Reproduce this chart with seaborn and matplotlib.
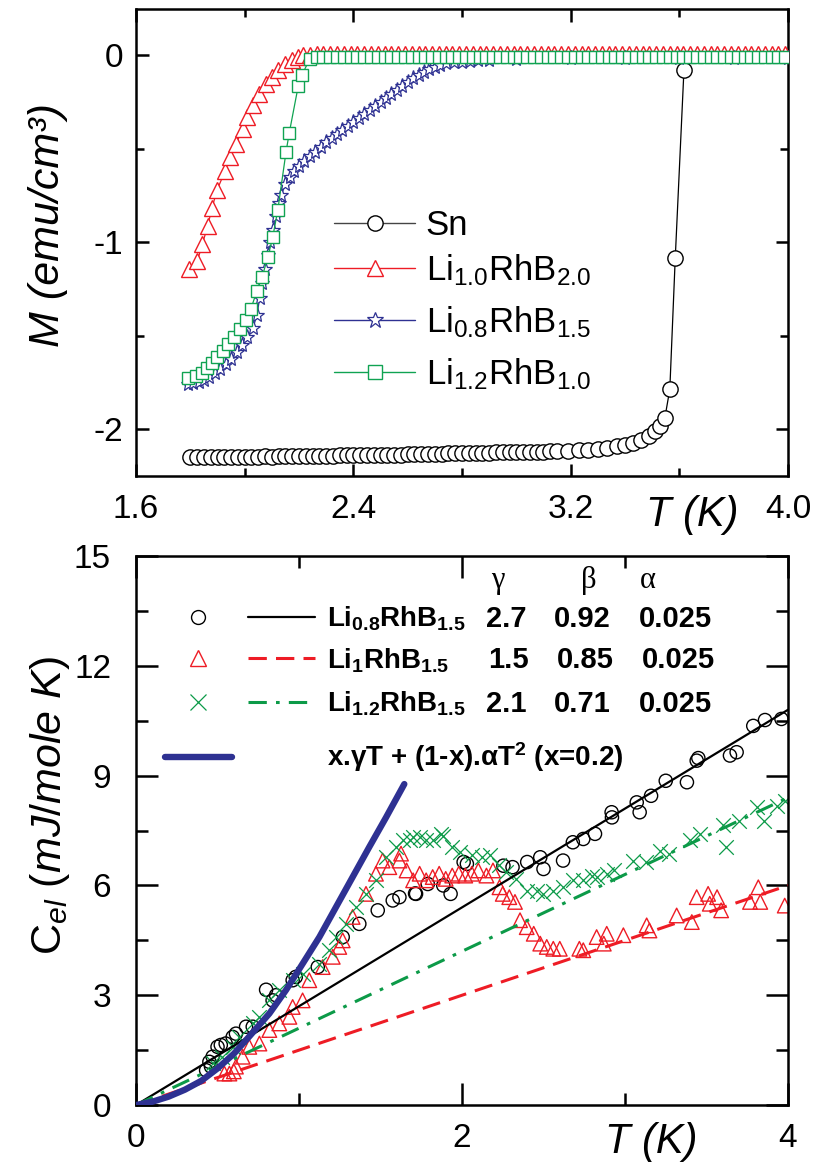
import matplotlib
matplotlib.use("Agg")
import matplotlib.pyplot as plt
import seaborn as sns
from matplotlib.lines import Line2D
from matplotlib.legend import Legend
from matplotlib.legend_handler import HandlerTuple
from matplotlib.ticker import MultipleLocator, FormatStrFormatter

# ---------------------------------------------------------------- data (top)
sn_T = [1.800, 1.825, 1.850, 1.875, 1.900, 1.925, 1.950, 1.975,
        2.000, 2.025, 2.050, 2.075, 2.100, 2.125, 2.150, 2.175, 2.200,
        2.225, 2.250, 2.275, 2.300, 2.325, 2.350, 2.375, 2.400,
        2.425, 2.450, 2.475, 2.500, 2.525, 2.550, 2.575, 2.600,
        2.625, 2.650, 2.675, 2.700, 2.725, 2.750, 2.775, 2.800,
        2.825, 2.850, 2.875, 2.900, 2.925, 2.950, 2.975, 3.000,
        3.025, 3.050, 3.075, 3.100, 3.125, 3.150,
        3.190, 3.230, 3.265, 3.300, 3.335, 3.370, 3.400, 3.430, 3.460,
        3.490, 3.510, 3.530, 3.547, 3.565, 3.585, 3.617]
sn_M = [-2.150, -2.149, -2.150, -2.149, -2.149, -2.148, -2.149, -2.148,
        -2.147, -2.146, -2.146, -2.145, -2.146, -2.144, -2.145, -2.143, -2.144,
        -2.143, -2.142, -2.142, -2.141, -2.141, -2.140, -2.140, -2.139,
        -2.138, -2.137, -2.137, -2.136, -2.136, -2.135, -2.135, -2.134,
        -2.133, -2.132, -2.131, -2.131, -2.130, -2.129, -2.129, -2.128,
        -2.127, -2.127, -2.126, -2.125, -2.124, -2.124, -2.123, -2.122,
        -2.121, -2.121, -2.120, -2.119, -2.118, -2.117,
        -2.115, -2.112, -2.109, -2.104, -2.098, -2.090, -2.082, -2.071, -2.058,
        -2.036, -2.010, -1.985, -1.937, -1.786, -1.084, -0.080]

li10_T = [1.796, 1.826, 1.844, 1.864, 1.879, 1.899, 1.928, 1.946, 1.968, 1.993,
          2.010, 2.032, 2.054, 2.078, 2.099, 2.124, 2.148, 2.173, 2.197, 2.216,
          2.240, 2.265, 2.290, 2.315, 2.340, 2.365, 2.390, 2.415, 2.440, 2.465,
          2.490, 2.515, 2.540, 2.565, 2.590, 2.615, 2.640, 2.665, 2.690, 2.715,
          2.740, 2.765, 2.790, 2.815, 2.840, 2.865, 2.890, 2.915, 2.940, 2.965,
          2.990, 3.015, 3.040, 3.065, 3.090, 3.115, 3.140, 3.165, 3.190, 3.215,
          3.240, 3.265, 3.290, 3.315, 3.340, 3.365, 3.390, 3.415, 3.440, 3.465,
          3.490, 3.515, 3.540, 3.565, 3.590, 3.615, 3.640, 3.665, 3.690, 3.715,
          3.740, 3.765, 3.790, 3.815, 3.840, 3.865, 3.890, 3.915, 3.940, 3.965,
          3.990]
li10_M = [-1.144, -1.099, -1.010, -0.912, -0.819, -0.718, -0.617, -0.542, -0.474, -0.393,
          -0.327, -0.268, -0.205, -0.152, -0.116, -0.077, -0.045, -0.027, -0.009, 0.000,
          0.004, 0.005, 0.005, 0.005, 0.005, 0.005, 0.005, 0.005, 0.005, 0.005,
          0.005, 0.005, 0.005, 0.005, 0.005, 0.005, 0.005, 0.005, 0.005, 0.005,
          0.005, 0.005, 0.005, 0.005, 0.005, 0.005, 0.005, 0.005, 0.005, 0.005,
          0.005, 0.005, 0.005, 0.005, 0.005, 0.005, 0.005, 0.005, 0.005, 0.005,
          0.005, 0.005, 0.005, 0.005, 0.005, 0.005, 0.005, 0.005, 0.005, 0.005,
          0.005, 0.005, 0.005, 0.005, 0.005, 0.005, 0.005, 0.005, 0.005, 0.005,
          0.005, 0.005, 0.005, 0.005, 0.005, 0.005, 0.005, 0.005, 0.005, 0.005,
          0.005]

li08_T = [1.790, 1.810, 1.830, 1.850, 1.870, 1.890, 1.910, 1.930, 1.950, 1.970,
          1.990, 2.010, 2.030, 2.045, 2.055, 2.065, 2.075, 2.085, 2.095, 2.105,
          2.115, 2.125, 2.135, 2.150, 2.165, 2.180, 2.200, 2.220, 2.240, 2.260,
          2.280, 2.300, 2.320, 2.340, 2.360, 2.380, 2.400, 2.420, 2.440, 2.460,
          2.480, 2.500, 2.520, 2.540, 2.560, 2.580, 2.600, 2.620, 2.640, 2.660,
          2.680, 2.700, 2.720, 2.740, 2.770, 2.800, 2.830, 2.860, 2.900,
          3.000, 3.200, 3.400, 3.600, 3.800, 4.000]
li08_M = [-1.760, -1.752, -1.745, -1.734, -1.720, -1.700, -1.678, -1.652, -1.622, -1.588,
          -1.550, -1.508, -1.460, -1.390, -1.300, -1.220, -1.140, -1.070, -1.000, -0.935,
          -0.860, -0.790, -0.745, -0.690, -0.650, -0.618, -0.590, -0.565, -0.540, -0.515,
          -0.490, -0.466, -0.444, -0.420, -0.398, -0.378, -0.357, -0.336, -0.314, -0.290,
          -0.270, -0.248, -0.226, -0.204, -0.183, -0.162, -0.142, -0.122, -0.103, -0.087,
          -0.073, -0.060, -0.050, -0.043, -0.037, -0.033, -0.030, -0.027, -0.024,
          -0.018, -0.015, -0.015, -0.015, -0.015, -0.015]

li12_T = [1.792, 1.821, 1.842, 1.860, 1.881, 1.899, 1.919, 1.940, 1.961, 1.983,
          2.005, 2.023, 2.045, 2.064, 2.085, 2.103, 2.122, 2.152, 2.164, 2.197,
          2.210, 2.240, 2.265,
          2.290, 2.315, 2.340, 2.365, 2.390, 2.415, 2.440, 2.465, 2.490, 2.515,
          2.540, 2.565, 2.590, 2.615, 2.640, 2.665, 2.690, 2.715, 2.740, 2.765,
          2.790, 2.815, 2.840, 2.865, 2.890, 2.915, 2.940, 2.965, 2.990, 3.015,
          3.040, 3.065, 3.090, 3.115, 3.140, 3.165, 3.190, 3.215, 3.240, 3.265,
          3.290, 3.315, 3.340, 3.365, 3.390, 3.415, 3.440, 3.465, 3.490, 3.515,
          3.540, 3.565, 3.590, 3.615, 3.640, 3.665, 3.690, 3.715, 3.740, 3.765,
          3.790, 3.815, 3.840, 3.865, 3.890, 3.915, 3.940, 3.965, 3.990]
li12_M = [-1.725, -1.716, -1.698, -1.671, -1.645, -1.614, -1.582, -1.546, -1.507, -1.466,
          -1.417, -1.355, -1.260, -1.185, -1.081, -0.974, -0.826, -0.518, -0.415, -0.165,
          -0.107, -0.018, -0.009,
          -0.010, -0.010, -0.010, -0.010, -0.010, -0.010, -0.010, -0.010, -0.010, -0.010,
          -0.010, -0.010, -0.010, -0.010, -0.010, -0.010, -0.010, -0.010, -0.010, -0.010,
          -0.010, -0.010, -0.010, -0.010, -0.010, -0.010, -0.010, -0.010, -0.010, -0.010,
          -0.010, -0.010, -0.010, -0.010, -0.010, -0.010, -0.010, -0.010, -0.010, -0.010,
          -0.010, -0.010, -0.010, -0.010, -0.010, -0.010, -0.010, -0.010, -0.010, -0.010,
          -0.010, -0.010, -0.010, -0.010, -0.010, -0.010, -0.010, -0.010, -0.010, -0.010,
          -0.010, -0.010, -0.010, -0.010, -0.010, -0.010, -0.010, -0.010, -0.010]

top_labels = ["Sn", "Li$_{1.0}$RhB$_{2.0}$", "Li$_{0.8}$RhB$_{1.5}$", "Li$_{1.2}$RhB$_{1.0}$"]
top_xticks = [1.6, 2.4, 3.2, 4.0]
top_yticks = [-2, -1, 0]

# ------------------------------------------------------------- data (bottom)
c08_T = [0.43, 0.45, 0.46, 0.47, 0.50, 0.52, 0.55, 0.593, 0.613, 0.675, 0.716, 0.798,
         0.838, 0.859, 0.961, 0.980, 1.115, 1.268, 1.370, 1.483, 1.575, 1.616, 1.712,
         1.718, 1.790, 1.885, 1.930, 2.010, 2.030, 2.254, 2.310, 2.400, 2.480, 2.500,
         2.620, 2.680, 2.744, 2.816, 2.918, 2.920, 3.072, 3.090, 3.160, 3.250, 3.380,
         3.440, 3.450, 3.644, 3.685, 3.787, 3.859, 3.960]
c08_C = [0.95, 1.18, 1.05, 1.32, 1.59, 1.64, 1.68, 1.86, 1.95, 2.14, 2.14, 3.15,
         2.86, 3.00, 3.41, 3.50, 3.77, 4.59, 4.95, 5.32, 5.59, 5.68, 5.78,
         5.77, 6.04, 6.00, 5.77, 6.64, 6.59, 6.54, 6.50, 6.64, 6.77, 6.45,
         6.68, 7.18, 7.27, 7.41, 8.00, 7.86, 8.27, 8.00, 8.45, 8.86, 8.82,
         9.41, 9.48, 9.55, 9.64, 10.36, 10.52, 10.55]

c10_T = [0.542, 0.573, 0.600, 0.613, 0.654, 0.695, 0.757, 0.818, 0.879, 0.941, 0.961,
         1.022, 1.063, 1.145, 1.207, 1.247, 1.268, 1.329, 1.411, 1.472, 1.513, 1.554,
         1.616, 1.626, 1.660, 1.700, 1.740, 1.780, 1.820, 1.860, 1.900, 1.940, 1.980,
         2.020, 2.060, 2.100, 2.150, 2.190, 2.230, 2.250, 2.290, 2.325, 2.356, 2.397,
         2.440, 2.480, 2.520, 2.560, 2.600, 2.720, 2.744, 2.826, 2.870, 2.888, 2.990,
         3.133, 3.150, 3.317, 3.410, 3.440, 3.510, 3.520, 3.565, 3.590, 3.767, 3.818,
         3.830, 3.980]
c10_C = [0.86, 0.86, 0.92, 1.05, 1.32, 1.59, 1.68, 2.05, 2.23, 2.41, 2.68,
         2.86, 3.41, 3.77, 4.05, 4.32, 4.50, 5.14, 5.77, 6.32, 6.68, 6.50,
         6.68, 6.87, 6.41, 6.14, 6.32, 6.14, 6.23, 6.32, 6.18, 6.27, 6.32,
         6.27, 6.32, 6.41, 6.27, 6.41, 5.95, 5.77, 5.68, 5.55, 5.05, 4.86,
         4.68, 4.41, 4.32, 4.27, 4.27, 4.27, 4.23, 4.59, 4.41, 4.68, 4.64,
         4.91, 4.77, 5.18, 5.00, 5.68, 5.77, 5.50, 5.68, 5.32, 5.55, 5.95,
         5.55, 5.45]

c12_T = [0.470, 0.530, 0.593, 0.634, 0.716, 0.757, 0.818, 0.879, 0.961, 1.022, 1.125,
         1.186, 1.227, 1.288, 1.350, 1.411, 1.472, 1.534, 1.595, 1.636, 1.680, 1.697,
         1.740, 1.780, 1.820, 1.870, 1.885, 1.940, 1.990, 2.060, 2.120, 2.170, 2.230,
         2.270, 2.330, 2.397, 2.460, 2.500, 2.560, 2.620, 2.680, 2.744, 2.800, 2.826,
         2.888, 2.930, 3.050, 3.130, 3.215, 3.270, 3.400, 3.460, 3.600, 3.620, 3.700,
         3.810, 3.850, 3.930, 3.980]
c12_C = [1.14, 1.32, 1.59, 1.86, 2.23, 2.41, 2.86, 3.14, 3.41, 3.59, 3.86,
         4.23, 4.59, 4.95, 5.41, 5.77, 6.14, 6.77, 7.05, 7.23, 7.23, 7.32,
         7.32, 7.23, 7.23, 7.40, 7.36, 7.05, 6.91, 6.82, 6.77, 6.82, 6.55,
         6.36, 6.18, 5.86, 5.86, 5.77, 5.86, 5.95, 6.14, 6.14, 6.27, 6.23,
         6.32, 6.41, 6.68, 6.64, 6.95, 6.86, 7.23, 7.41, 7.64, 7.05, 7.77,
         8.14, 7.77, 8.18, 8.32]

fit_T = [0.0, 4.0]
fit08_C = [0.0, 10.8]
fit10_C = [0.0, 6.0]
fit12_C = [0.0, 8.4]

model_T = [0.00, 0.10, 0.20, 0.30, 0.40, 0.50, 0.60, 0.70, 0.818, 0.920, 1.022,
           1.125, 1.227, 1.329, 1.431, 1.534, 1.646]
model_C = [0.00, 0.09, 0.23, 0.42, 0.66, 1.00, 1.40, 1.90, 2.50, 3.14, 3.86,
           4.59, 5.41, 6.23, 7.05, 7.86, 8.77]

bot_names = ["Li$_{\\mathbf{0.8}}$RhB$_{\\mathbf{1.5}}$",
             "Li$_{\\mathbf{1}}$RhB$_{\\mathbf{1.5}}$",
             "Li$_{\\mathbf{1.2}}$RhB$_{\\mathbf{1.5}}$"]
gamma_vals = ["2.7", "1.5", "2.1"]
beta_vals = ["0.92", "0.85", "0.71"]
alpha_vals = ["0.025", "0.025", "0.025"]
model_label = "x.\u03b3T + (1-x).\u03b1T$^{\\mathbf{2}}$ (x=0.2)"

# ---------------------------------------------------------------- style
sns.set_style("ticks")
plt.rcParams["font.family"] = ["Liberation Sans", "DejaVu Sans"]
plt.rcParams["mathtext.fontset"] = "custom"
plt.rcParams["mathtext.rm"] = "Liberation Sans"
plt.rcParams["mathtext.it"] = "Liberation Sans:italic"
plt.rcParams["mathtext.bf"] = "Liberation Sans:bold"
plt.rcParams["axes.unicode_minus"] = False
for k in ["axes.edgecolor", "xtick.color", "ytick.color", "text.color", "axes.labelcolor"]:
    plt.rcParams[k] = "black"

RED = "#ee1c25"
BLUE = "#2e3192"
GREEN = "#10a352"
GREEN2 = "#0c9a48"

fig = plt.figure(figsize=(8.18, 11.67), dpi=100)
ax1 = fig.add_axes([0.1663, 0.5921, 0.797, 0.4005])
ax2 = fig.add_axes([0.1663, 0.0531, 0.797, 0.4704])

# ---------------------------------------------------------------- top panel
def series(ax, x, y, color, marker, ms, z, lw=0.9, mew=1.0):
    sns.lineplot(x=x, y=y, ax=ax, color=color, lw=lw, marker=marker,
                 markersize=ms, markerfacecolor="white", markeredgecolor=color,
                 markeredgewidth=mew, estimator=None, sort=False, zorder=z)

series(ax1, sn_T, sn_M, "black", "o", 11, 2)
series(ax1, li10_T, li10_M, RED, "^", 12, 3)
series(ax1, li08_T, li08_M, BLUE, "*", 11, 4, mew=0.9)
series(ax1, li12_T, li12_M, GREEN, "s", 9, 5)

ax1.set_xlim(1.6, 4.0)
ax1.set_ylim(-2.25, 0.25)
ax1.set_xticks(top_xticks)
ax1.xaxis.set_minor_locator(MultipleLocator(0.4))
ax1.xaxis.set_major_formatter(FormatStrFormatter("%.1f"))
ax1.set_yticks(top_yticks)
ax1.yaxis.set_minor_locator(MultipleLocator(0.5))

top_handles = [
    Line2D([], [], color="#444444", lw=1.0, marker="o", ms=11, mfc="white", mec="black", mew=1.0),
    Line2D([], [], color=RED, lw=1.0, marker="^", ms=12, mfc="white", mec=RED, mew=1.0),
    Line2D([], [], color=BLUE, lw=1.0, marker="*", ms=12, mfc="white", mec=BLUE, mew=0.9),
    Line2D([], [], color=GREEN, lw=1.0, marker="s", ms=10, mfc="white", mec=GREEN, mew=1.0),
]
top_rows = [-0.912, -1.15, -1.427, -1.703]
for h, lab, yr in zip(top_handles, top_labels, top_rows):
    leg = Legend(ax1, [h], [lab], loc="center left", bbox_to_anchor=(2.33, yr),
                 bbox_transform=ax1.transData, frameon=False, borderpad=0,
                 borderaxespad=0, handlelength=2.33, handletextpad=0.3,
                 prop={"size": 25})
    ax1.add_artist(leg)

ax1.set_xlabel("T (K)", fontsize=30, fontstyle="italic")
ax1.xaxis.set_label_coords(0.853, -0.04)
ax1.set_ylabel("M (emu/cm\u00b3)", fontsize=31, fontstyle="italic")
ax1.yaxis.set_label_coords(-0.104, 0.537)

# ------------------------------------------------------------- bottom panel
sns.scatterplot(x=c08_T, y=c08_C, ax=ax2, marker="o", s=90, facecolor="none",
                edgecolor="black", linewidth=1.0, zorder=2)
sns.scatterplot(x=c10_T, y=c10_C, ax=ax2, marker="^", s=110, facecolor="none",
                edgecolor=RED, linewidth=1.0, zorder=2)
sns.scatterplot(x=c12_T, y=c12_C, ax=ax2, marker="x", s=110, color=GREEN2,
                linewidth=0.9, zorder=2)

sns.lineplot(x=fit_T, y=fit08_C, ax=ax2, color="black", lw=1.6, zorder=3)
sns.lineplot(x=fit_T, y=fit10_C, ax=ax2, color=RED, lw=2.2, linestyle=(0, (6, 3)), zorder=3)
sns.lineplot(x=fit_T, y=fit12_C, ax=ax2, color=GREEN2, lw=2.2,
             linestyle=(0, (6, 3, 1.2, 3)), zorder=3)
sns.lineplot(x=model_T, y=model_C, ax=ax2, color=BLUE, lw=4.6,
             solid_capstyle="round", solid_joinstyle="round",
             sort=False, estimator=None, zorder=4)

ax2.set_xlim(0, 4)
ax2.set_ylim(0, 15)
ax2.set_xticks([0, 2, 4])
ax2.xaxis.set_minor_locator(MultipleLocator(1))
ax2.set_yticks([0, 3, 6, 9, 12, 15])
ax2.yaxis.set_minor_locator(MultipleLocator(1.5))

bot_handles = [
    (Line2D([], [], ls="none", marker="o", ms=10, mfc="none", mec="black", mew=1.0),
     Line2D([], [], color="black", lw=1.6)),
    (Line2D([], [], ls="none", marker="^", ms=11, mfc="none", mec=RED, mew=1.0),
     Line2D([], [], color=RED, lw=2.2, ls=(0, (6, 3)))),
    (Line2D([], [], ls="none", marker="x", ms=11, color=GREEN2, mew=0.9),
     Line2D([], [], color=GREEN2, lw=2.2, ls=(0, (6, 3, 1.2, 3)))),
]
model_handle = (Line2D([], [], color=BLUE, lw=4.6, solid_capstyle="round"),
                Line2D([], [], color="none"))
bot_rows = [13.28, 12.15, 10.96, 9.50]
all_handles = bot_handles + [model_handle]
all_labels = bot_names + [model_label]
for h, lab, yr in zip(all_handles, all_labels, bot_rows):
    leg = Legend(ax2, [h], [lab], loc="center left", bbox_to_anchor=(0.175, yr),
                 bbox_transform=ax2.transData, frameon=False, borderpad=0,
                 borderaxespad=0, handlelength=5.43, handletextpad=0.43,
                 prop={"size": 20, "weight": "bold"},
                 handler_map={tuple: HandlerTuple(ndivide=None, pad=0.55)})
    ax2.add_artist(leg)

for sym, xs in zip(["\u03b3", "\u03b2", "\u03b1"], [2.22, 2.78, 3.14]):
    ax2.text(xs, 14.33, sym, ha="center", va="center", fontsize=22,
             family="Liberation Serif")
for i, yr in enumerate(bot_rows[:3]):
    dx = 0.015 if i == 1 else 0.0
    ax2.text(2.27 + dx, yr, gamma_vals[i], ha="center", va="center", fontsize=21, weight="bold")
    ax2.text(2.74 + dx, yr, beta_vals[i], ha="center", va="center", fontsize=21, weight="bold")
    ax2.text(3.31 + dx, yr, alpha_vals[i], ha="center", va="center", fontsize=21, weight="bold")

ax2.set_xlabel("T (K)", fontsize=30, fontstyle="italic")
ax2.xaxis.set_label_coords(0.791, -0.03)
ax2.set_ylabel(r"$\mathrm{C}_{\mathit{el}}\ \mathit{(mJ/mole\ K)}$", fontsize=31)
ax2.yaxis.set_label_coords(-0.098, 0.546)

# ---------------------------------------------------------------- axes look
for ax in (ax1, ax2):
    ax.tick_params(which="both", direction="in", top=True, right=True,
                   width=1.8, labelsize=24)
    for s in ax.spines.values():
        s.set_linewidth(1.8)
ax1.tick_params(which="major", length=9)
ax1.tick_params(which="minor", length=5.5)
ax2.tick_params(which="major", length=16)
ax2.tick_params(which="minor", length=8.5)
ax1.tick_params(axis="x", which="both", pad=13)
ax1.tick_params(axis="y", which="both", pad=9)
ax2.tick_params(axis="x", which="both", pad=13)
ax2.tick_params(axis="y", which="both", pad=18)

fig.savefig("out.png", dpi=100)
